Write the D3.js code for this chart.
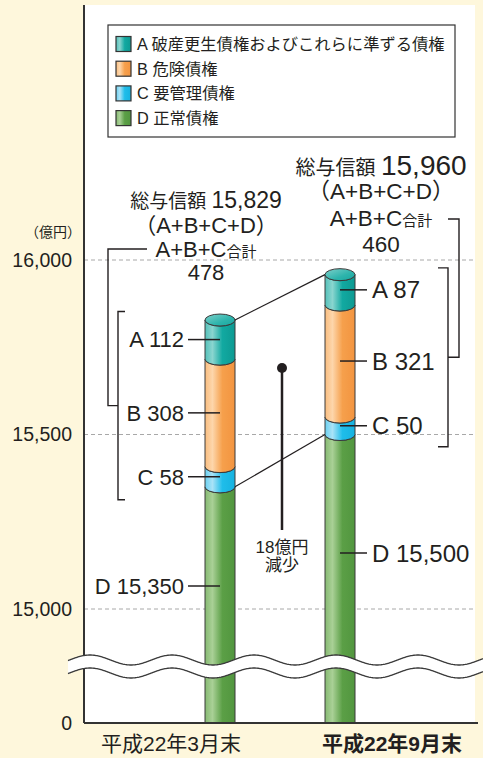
<!DOCTYPE html>
<html><head><meta charset="utf-8">
<script src="https://cdn.jsdelivr.net/npm/d3@7"></script>
<style>
html,body{margin:0;padding:0;background:#fef7dc;}
svg{display:block;}
text{font-family:'Liberation Sans','Noto Sans CJK JP',sans-serif;fill:#231f20;}
</style></head><body>
<svg id="chart" width="483" height="758"></svg>
<script>
// ---------- data ----------
const categories = ["平成22年3月末", "平成22年9月末"];
const seriesA = [112, 87];      // 破産更生債権およびこれらに準ずる債権
const seriesB = [308, 321];     // 危険債権
const seriesC = [58, 50];       // 要管理債権
const seriesD = [15350, 15500]; // 正常債権
const totals = [15829, 15960];
const totalLabels = ["15,829", "15,960"];
const subtotalsABC = ["478", "460"];
const yTicks = [0, 15000, 15500, 16000];
const yTickLabels = ["0", "15,000", "15,500", "16,000"];
const seriesKeys = ["D", "C", "B", "A"];
const legendLabels = ["A 破産更生債権およびこれらに準ずる債権", "B 危険債権", "C 要管理債権", "D 正常債権"];
const segLabelsLeft = ["D 15,350", "C 58", "B 308", "A 112"];
const segLabelsRight = ["D 15,500", "C 50", "B 321", "A 87"];
const changeNote = ["18億円", "減少"];

// ---------- setup ----------
const svg = d3.select("#chart");
const defs = svg.append("defs");

const colors = {
  A: {base: "#12a9a1", light: "#8ad5cf", dark: "#0d9a92"},
  B: {base: "#f6a04c", light: "#fdd6ab", dark: "#f29440"},
  C: {base: "#1fbdea", light: "#a9e2f7", dark: "#16b2e0"},
  D: {base: "#5b9f46", light: "#a9d096", dark: "#52963f"}
};
Object.entries(colors).forEach(([k, c]) => {
  const g = defs.append("linearGradient").attr("id", "g" + k)
    .attr("x1", "0%").attr("x2", "100%").attr("y1", "0%").attr("y2", "0%");
  g.append("stop").attr("offset", "0%").attr("stop-color", d3.interpolateRgb(c.base, c.light)(0.55));
  g.append("stop").attr("offset", "25%").attr("stop-color", c.light);
  g.append("stop").attr("offset", "58%").attr("stop-color", c.base);
  g.append("stop").attr("offset", "100%").attr("stop-color", c.dark);
});
const cap = defs.append("linearGradient").attr("id", "gCap")
  .attr("x1", "0%").attr("x2", "100%").attr("y1", "0%").attr("y2", "100%");
cap.append("stop").attr("offset", "0%").attr("stop-color", "#7fd0ca");
cap.append("stop").attr("offset", "60%").attr("stop-color", "#2db4ac");
cap.append("stop").attr("offset", "100%").attr("stop-color", "#17a79f");

const plotLeft = 84, plotRight = 475, plotTop = 5, axisY = 723;

const y = d3.scaleLinear().domain([0, 15000, 16000]).range([axisY, 609, 260]);
const x = d3.scalePoint().domain(categories).range([220, 340]);
const barW = 30, rx = barW / 2, ry = 6;

// white panel
svg.append("rect").attr("x", plotLeft).attr("y", plotTop)
  .attr("width", plotRight - plotLeft).attr("height", axisY - plotTop).attr("fill", "#fff");

// grid lines
svg.append("g").selectAll("line").data(yTicks.filter(d => d > 0)).join("line")
  .attr("x1", plotLeft).attr("x2", plotRight)
  .attr("y1", d => y(d)).attr("y2", d => y(d))
  .attr("stroke", "#a8a8a8").attr("stroke-width", 1).attr("stroke-dasharray", "4,3");

// legend
const lg = svg.append("g");
lg.append("rect").attr("x", 108).attr("y", 25).attr("width", 347).attr("height", 112)
  .attr("fill", "#fff").attr("stroke", "#333").attr("stroke-width", 1.2);
const legendKeys = ["A", "B", "C", "D"];
legendKeys.forEach((k, i) => {
  const cy = 44 + i * 24.7;
  lg.append("rect").attr("x", 116).attr("y", cy - 7.5).attr("width", 15).attr("height", 15)
    .attr("fill", `url(#g${k})`).attr("stroke", "#333").attr("stroke-width", 1.2);
  lg.append("text").attr("x", 137).attr("y", cy).attr("dy", "0.36em")
    .attr("font-size", 16.3).attr("fill", "#2a2a2a").text(legendLabels[i]);
});

// stacked data
const stackRows = categories.map((c, i) => ({cat: c, A: seriesA[i], B: seriesB[i], C: seriesC[i], D: seriesD[i]}));
const stacked = d3.stack().keys(seriesKeys)(stackRows);

function segPath(cx, yTop, yBot, flatBottom) {
  const x0 = cx - rx, x1 = cx + rx;
  let p = `M${x0},${yBot} L${x0},${yTop} A${rx},${ry} 0 0 0 ${x1},${yTop} L${x1},${yBot}`;
  p += flatBottom ? " Z" : ` A${rx},${ry} 0 0 1 ${x0},${yBot} Z`;
  return p;
}

const barsG = svg.append("g");
stacked.forEach((layer, li) => {
  barsG.selectAll(null).data(layer).join("path")
    .attr("d", d => segPath(x(d.data.cat), y(d[1]), y(d[0]), li === 0))
    .attr("fill", `url(#g${layer.key})`)
    .attr("stroke", "#3a3a3a").attr("stroke-width", 1);
});
// top caps
barsG.selectAll("ellipse").data(stacked[stacked.length - 1]).join("ellipse")
  .attr("cx", d => x(d.data.cat)).attr("cy", d => y(d[1]))
  .attr("rx", rx).attr("ry", ry)
  .attr("fill", "url(#gCap)").attr("stroke", "#3a3a3a").attr("stroke-width", 1);

// connecting lines
const xl = x(categories[0]) + rx, xr = x(categories[1]) - rx;
const topL = stacked[3][0][1], topR = stacked[3][1][1];
svg.append("line").attr("x1", xl).attr("y1", y(topL)).attr("x2", xr).attr("y2", y(topR))
  .attr("stroke", "#231f20").attr("stroke-width", 1.2);
svg.append("line").attr("x1", xl).attr("y1", y(seriesD[0])).attr("x2", xr).attr("y2", y(seriesD[1]))
  .attr("stroke", "#231f20").attr("stroke-width", 1.2);

// segment labels
const lineColor = "#231f20";
function segMid(li, ci) { const d = stacked[li][ci]; return y((d[0] + d[1]) / 2); }
const leftY = [586, segMid(1, 0), segMid(2, 0), segMid(3, 0)];
const rightY = [553, segMid(1, 1), segMid(2, 1), segMid(3, 1)];
const lab = svg.append("g");
leftY.forEach((yy, i) => {
  lab.append("line").attr("x1", 188).attr("x2", x(categories[0])).attr("y1", yy).attr("y2", yy)
    .attr("stroke", lineColor).attr("stroke-width", 1.5);
  lab.append("text").attr("x", 184).attr("y", yy).attr("dy", "0.36em").attr("text-anchor", "end")
    .attr("font-size", 22).text(segLabelsLeft[i]);
});
rightY.forEach((yy, i) => {
  lab.append("line").attr("x1", x(categories[1])).attr("x2", 367).attr("y1", yy).attr("y2", yy)
    .attr("stroke", lineColor).attr("stroke-width", 1.5);
  lab.append("text").attr("x", 372).attr("y", yy).attr("dy", "0.36em").attr("text-anchor", "start")
    .attr("font-size", 24).text(segLabelsRight[i]);
});

// brackets
const br = svg.append("g").attr("fill", "none").attr("stroke", lineColor).attr("stroke-width", 1.4);
const lTop = leftY[3] - 28, lBot = leftY[1] + 23, lMid = (lTop + lBot) / 2;
br.append("path").attr("d", `M125,${lTop} H118 V${lBot} H125`);
br.append("path").attr("d", `M147,249 H108 V${lMid} H118`);
const rTop = rightY[3] - 22, rBot = rightY[1] + 21, rMid = (rTop + rBot) / 2;
br.append("path").attr("d", `M438,${rTop} H448 V${rBot} H438`);
br.append("path").attr("d", `M448,219 H459 V${rMid} H448`);

// total labels
function totalBlock(ci, cx, base, f) {
  const t1 = svg.append("text").attr("x", cx).attr("y", base[0]).attr("text-anchor", "middle");
  t1.append("tspan").attr("font-size", f[0]).text("総与信額 ");
  t1.append("tspan").attr("font-size", f[1]).text(totalLabels[ci]);
  svg.append("text").attr("x", cx).attr("y", base[1]).attr("text-anchor", "middle")
    .attr("font-size", f[2]).text("（A+B+C+D）");
  const t3 = svg.append("text").attr("x", cx).attr("y", base[2]).attr("text-anchor", "middle");
  t3.append("tspan").attr("font-size", f[2]).text("A+B+C");
  t3.append("tspan").attr("font-size", f[3]).text("合計");
  svg.append("text").attr("x", cx).attr("y", base[3]).attr("text-anchor", "middle")
    .attr("font-size", f[2]).text(subtotalsABC[ci]);
}
totalBlock(0, 206, [208, 233, 257, 280], [19, 23, 22, 15]);
totalBlock(1, 381, [175, 199, 226, 252], [20, 28, 22.5, 15]);

// decrease marker
const mx = (x(categories[0]) + x(categories[1])) / 2 + 2;
svg.append("line").attr("x1", mx).attr("x2", mx).attr("y1", 368).attr("y2", 530)
  .attr("stroke", "#231f20").attr("stroke-width", 2.5);
svg.append("circle").attr("cx", mx).attr("cy", 368).attr("r", 5).attr("fill", "#231f20");
changeNote.forEach((t, i) => {
  svg.append("text").attr("x", mx).attr("y", 553 + i * 18).attr("text-anchor", "middle")
    .attr("font-size", 17).attr("fill", "#333").text(t);
});

// y axis labels
const yAxis = d3.axisLeft(y).tickValues(yTicks).tickFormat((d, i) => yTickLabels[i]).tickSize(0).tickPadding(12);
const ya = svg.append("g").attr("transform", `translate(${plotLeft},0)`).call(yAxis);
ya.select(".domain").remove();
ya.selectAll("text").attr("font-size", 19.5).attr("fill", "#3a3a3a")
  .style("font-family", "'Liberation Sans','Noto Sans CJK JP',sans-serif");
svg.append("text").attr("x", 81).attr("y", 232).attr("dy", "0.36em").attr("text-anchor", "end")
  .attr("font-size", 14).attr("fill", "#555").text("（億円）");

// axis lines
svg.append("line").attr("x1", plotLeft).attr("x2", plotLeft).attr("y1", plotTop).attr("y2", axisY)
  .attr("stroke", "#333").attr("stroke-width", 2);
svg.append("line").attr("x1", plotLeft).attr("x2", 478).attr("y1", axisY).attr("y2", axisY)
  .attr("stroke", "#333").attr("stroke-width", 2);

// break band
const period = 82, amp = 5, bx0 = 68, bx1 = 483;
const xs = d3.range(bx0, bx1 + 1, 1);
const wave = (xx, c) => c - amp * Math.cos(2 * Math.PI * (xx - 90) / period);
const upper = xs.map(xx => [xx, wave(xx, 660)]);
const lower = xs.map(xx => [xx, wave(xx, 673)]);
const line = d3.line();
svg.append("path").attr("d", line(upper.concat(lower.slice().reverse())) + "Z").attr("fill", "#fff");
svg.append("path").attr("d", line(upper)).attr("fill", "none").attr("stroke", "#3a3a3a").attr("stroke-width", 1.3);
svg.append("path").attr("d", line(lower)).attr("fill", "none").attr("stroke", "#3a3a3a").attr("stroke-width", 1.3);

// category labels
svg.append("text").attr("x", x(categories[0]) + 21).attr("y", 751).attr("text-anchor", "end")
  .attr("font-size", 21).attr("fill", "#3a3a3a").text(categories[0]);
svg.append("text").attr("x", x(categories[1]) - 18).attr("y", 751).attr("text-anchor", "start")
  .attr("font-size", 21).attr("font-weight", "bold").text(categories[1]);
</script>
</body></html>
